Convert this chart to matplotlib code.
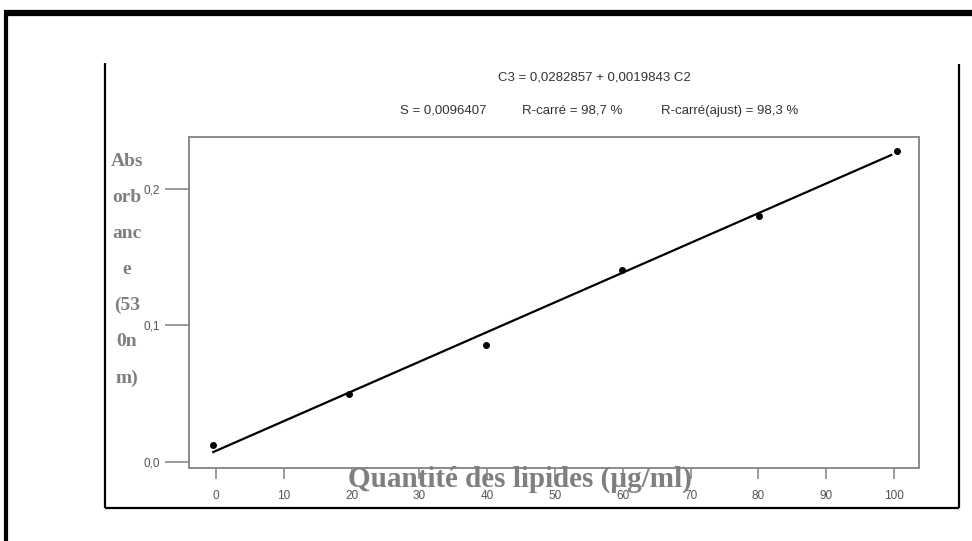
import matplotlib
matplotlib.use("Agg")
import matplotlib.pyplot as plt
from matplotlib.lines import Line2D
from matplotlib.ticker import FixedLocator, FixedFormatter

# measured points (lipid amount vs absorbance)
lipides = [-0.4, 19.6, 39.8, 59.9, 80.1, 100.4]
absorbance = [0.0125, 0.0498, 0.0857, 0.1407, 0.1800, 0.2278]

# fitted line as drawn in the picture
fit_x = [-0.4, 99.6]
fit_y = [0.0073, 0.2249]

x_ticks = [0, 10, 20, 30, 40, 50, 60, 70, 80, 90, 100]
x_tick_labels = ["0", "10", "20", "30", "40", "50", "60", "70", "80", "90", "100"]
y_ticks = [0.0, 0.1, 0.2]
y_tick_labels = ["0,0", "0,1", "0,2"]

title_line1 = "C3 = 0,0282857 + 0,0019843 C2"
title_line2 = ["S = 0,0096407", "R-carré = 98,7 %", "R-carré(ajust) = 98,3 %"]
x_label = "Quantité des lipides (µg/ml)"
y_label = "Abs\norb\nanc\ne\n(53\n0n\nm)"

W, H = 972, 541
GRAY = "#8a8a8a"
LABEL_GRAY = "#7f7f7f"


def fx(x):
    return x / W


def fy(y):
    return 1 - y / H


def fig_line(fig, xs, ys, lw, color="black"):
    fig.add_artist(Line2D([fx(v) for v in xs], [fy(v) for v in ys],
                          transform=fig.transFigure, lw=lw, color=color,
                          solid_capstyle="butt"))


fig = plt.figure(figsize=(W / 100, H / 100), dpi=100)
fig.patch.set_facecolor("white")

# page frame
fig_line(fig, [4, W], [13, 13], lw=4.5)
fig_line(fig, [6, 6], [10, H], lw=3)

# pasted image frame
fig_line(fig, [105, 105], [63, 508], lw=1.6)
fig_line(fig, [105, 959], [508, 508], lw=1.6)
fig_line(fig, [959, 959], [64, 508], lw=1.6)

ax = fig.add_axes([fx(189), fy(468), (919 - 189) / W, (468 - 137) / H])
ax.plot(fit_x, fit_y, color="black", lw=1.6, zorder=2)
ax.plot(lipides, absorbance, "o", color="black", markersize=4, zorder=3)

ax.set_xlim(-3.98, 103.7)
ax.set_ylim(-0.0044, 0.2381)

ax.xaxis.set_major_locator(FixedLocator(x_ticks))
ax.xaxis.set_major_formatter(FixedFormatter(x_tick_labels))
ax.yaxis.set_major_locator(FixedLocator(y_ticks))
ax.yaxis.set_major_formatter(FixedFormatter(y_tick_labels))

for spine in ax.spines.values():
    spine.set_color(GRAY)
    spine.set_linewidth(1.4)

ax.tick_params(axis="x", direction="out", length=8, width=1.2, color=GRAY,
               pad=8, labelsize=8.5, labelcolor="#555555")
ax.tick_params(axis="y", direction="out", length=17, width=1.2, color=GRAY,
               pad=4, labelsize=8.5, labelcolor="#555555")
for lab in ax.get_xticklabels() + ax.get_yticklabels():
    lab.set_fontfamily("Liberation Sans")

# regression header
fig.text(fx(594), fy(78), title_line1, ha="center", va="center",
         fontsize=9.5, family="Liberation Sans", color="#333333")
for xpos, txt in zip([443, 572, 730], title_line2):
    fig.text(fx(xpos), fy(111), txt, ha="center", va="center",
             fontsize=9.5, family="Liberation Sans", color="#333333")

# overlaid axis labels
fig.text(fx(520), fy(479), x_label, ha="center", va="center",
         fontsize=21, fontweight="bold", family="Liberation Serif",
         color=LABEL_GRAY)
fig.text(fx(127), fy(270), y_label, ha="center", va="center",
         fontsize=14, fontweight="bold", family="Liberation Serif",
         color=LABEL_GRAY, linespacing=2.45)

fig.savefig("out.png", dpi=100)
